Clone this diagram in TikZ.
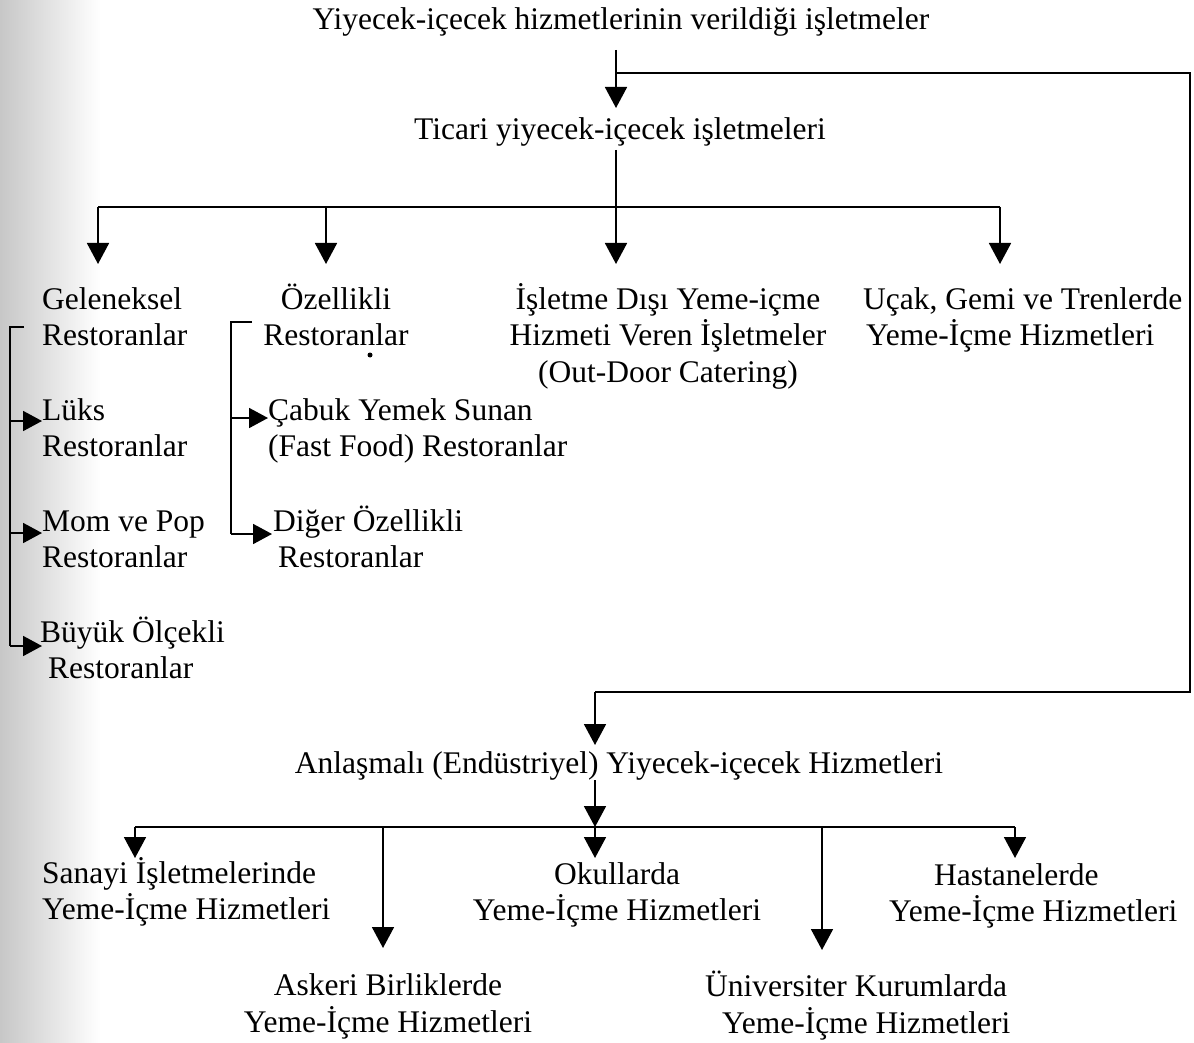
\documentclass[tikz,border=0pt]{standalone}
\usepackage{fontspec}
\setmainfont{Liberation Serif}
\usetikzlibrary{arrows.meta}
\begin{document}
\begin{tikzpicture}[x=1pt,y=-1pt,
  lbl/.style={inner sep=0pt,font=\fontsize{31.5}{36.5}\selectfont},
  link/.style={line width=1.8pt},
  arr/.style={link,-{Triangle[length=21pt,width=22pt]}},
  sarr/.style={link,-{Triangle[length=19pt,width=20pt]}}]
\useasboundingbox (0,0) rectangle (1194,1043);
% faint scanner band along the left margin
\shade[left color=black!22,right color=white] (0,0) rectangle (100,1043);

% ---- text (base anchor = baseline of the last line) ----
\node[lbl,anchor=base] (root) at (621,30) {Yiyecek-içecek hizmetlerinin verildiği işletmeler};
\node[lbl,anchor=base] (tic) at (620,140) {Ticari yiyecek-içecek işletmeleri};

\node[lbl,anchor=base west,align=left] (gel) at (42,345.5) {Geleneksel\\Restoranlar};
\node[lbl,anchor=base,align=center] (oze) at (336,345.5) {Özellikli\\Restoranlar};
\node[lbl,anchor=base,align=center] (dis) at (668,382) {İşletme Dışı Yeme-içme\\Hizmeti Veren İşletmeler\\(Out-Door Catering)};
\node[lbl,anchor=base west,align=left] (ucak) at (863,345.5) {Uçak, Gemi ve Trenlerde\\\hspace*{3pt}Yeme-İçme Hizmetleri};

\node[lbl,anchor=base west,align=left] (luks) at (42,456.5) {Lüks\\Restoranlar};
\node[lbl,anchor=base west,align=left] (mom) at (42,567.5) {Mom ve Pop\\Restoranlar};
\node[lbl,anchor=base west,align=left] (buyuk) at (40,678.5) {Büyük Ölçekli\\\hspace*{8pt}Restoranlar};

\node[lbl,anchor=base west,align=left] (cabuk) at (268,456.5) {Çabuk Yemek Sunan\\(Fast Food) Restoranlar};
\node[lbl,anchor=base west,align=left] (diger) at (273,567.5) {Diğer Özellikli\\\hspace*{5pt}Restoranlar};

\node[lbl,anchor=base] (anl) at (619,773) {Anlaşmalı (Endüstriyel) Yiyecek-içecek Hizmetleri};

\node[lbl,anchor=base west,align=left] (san) at (42,919.5) {Sanayi İşletmelerinde\\Yeme-İçme Hizmetleri};
\node[lbl,anchor=base,align=center] (okul) at (617,920.5) {Okullarda\\Yeme-İçme Hizmetleri};
\node[lbl,anchor=base west,align=left] (has) at (889,921.5) {\hspace*{45pt}Hastanelerde\\Yeme-İçme Hizmetleri};
\node[lbl,anchor=base,align=center] (ask) at (388,1032) {Askeri Birliklerde\\Yeme-İçme Hizmetleri};
\node[lbl,anchor=base west,align=left] (uni) at (705,1033) {Üniversiter Kurumlarda\\\hspace*{17pt}Yeme-İçme Hizmetleri};

% small ink speck below the second heading
\fill (370,355) circle (2.5pt);

% ---- connector points ----
\coordinate (r0) at (616,50);
\coordinate (rj) at (616,73);
\coordinate (rr) at (1190,73);
\coordinate (br) at (1190,692);
\coordinate (bl) at (595,692);
\coordinate (t0) at (616,150);
\coordinate (tj) at (616,207);
\coordinate (hL) at (98,207);
\coordinate (hR) at (1000,207);
\coordinate (o1) at (326,207);

% top level
\draw[arr] (r0) -- (616,108);
\draw[link] (rj) -- (rr) -- (br) -- (bl);
\draw[arr] (bl) -- (595,745);

% commercial branch
\draw[link] (t0) -- (tj);
\draw[link] (hL) -- (hR);
\draw[arr] (hL) -- (98,264);
\draw[arr] (o1) -- (326,264);
\draw[arr] (tj) -- (616,264);
\draw[arr] (hR) -- (1000,264);

% traditional restaurants
\draw[link] (24,327) -- (10,327) -- (10,646);
\draw[sarr] (10,421) -- (42,421);
\draw[sarr] (10,533) -- (42,533);
\draw[sarr] (10,646) -- (42,646);

% speciality restaurants
\draw[link] (252,322) -- (231,322) -- (231,534);
\draw[sarr] (231,418) -- (268,418);
\draw[sarr] (231,534) -- (272,534);

% contract catering branch
\coordinate (a0) at (595,780);
\coordinate (aj) at (595,827);
\coordinate (bL) at (135,827);
\coordinate (bR) at (1015,827);
\coordinate (b2) at (383,827);
\coordinate (b4) at (822,827);
\draw[arr] (a0) -- (aj);
\draw[link] (bL) -- (bR);
\draw[arr] (bL) -- (135,858);
\draw[arr] (b2) -- (383,948);
\draw[arr] (aj) -- (595,858);
\draw[arr] (b4) -- (822,950);
\draw[arr] (bR) -- (1015,858);
\end{tikzpicture}
\end{document}
